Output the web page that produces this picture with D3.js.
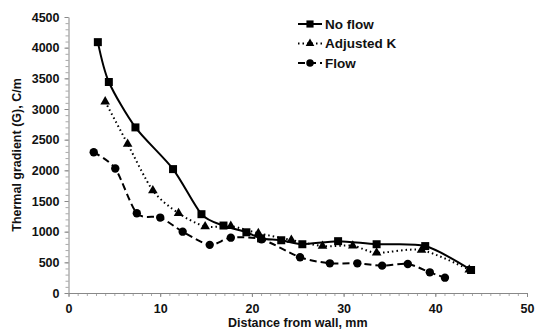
<!DOCTYPE html>
<html>
<head>
<meta charset="utf-8">
<script src="https://cdn.jsdelivr.net/npm/d3@7"></script>
<style>
  body { margin: 0; background: #fff; }
  text { font-family: "Liberation Sans", Arial, sans-serif; font-weight: bold; }
</style>
</head>
<body>
<div id="chart"></div>
<script>
// values
const noFlowX = [3.2, 4.4, 7.3, 11.4, 14.5, 16.9, 19.4, 21.0, 23.2, 25.5, 29.4, 33.6, 38.9, 43.9];
const noFlowY = [4090, 3440, 2700, 2020, 1285, 1100, 990, 890, 860, 795, 845, 795, 765, 375];

const adjKX = [4.0, 6.45, 9.2, 12.0, 14.9, 17.7, 20.7, 24.3, 27.7, 31.0, 33.6, 38.5, 43.7];
const adjKY = [3120, 2430, 1670, 1300, 1085, 1090, 975, 865, 765, 770, 655, 700, 380];

const flowX = [2.75, 5.1, 7.45, 10.0, 12.45, 15.4, 17.7, 21.05, 25.25, 28.5, 31.5, 34.2, 37.0, 39.4, 41.05];
const flowY = [2295, 2030, 1300, 1230, 1000, 785, 902, 875, 582, 484, 484, 446, 473, 337, 250];

const xTicks = [0, 10, 20, 30, 40, 50];
const yTicks = [0, 500, 1000, 1500, 2000, 2500, 3000, 3500, 4000, 4500];

const series = [
  { name: "No flow", xs: noFlowX, ys: noFlowY, sym: d3.symbolSquare, size: 64, dash: null },
  { name: "Adjusted K", xs: adjKX, ys: adjKY, sym: d3.symbolTriangle, size: 40, dash: "1.5,3" },
  { name: "Flow", xs: flowX, ys: flowY, sym: d3.symbolCircle, size: 55, dash: "7,4" }
];

const W = 540, H = 332;
const margin = { top: 17, right: 13, bottom: 39, left: 68.5 };

const svg = d3.select("#chart").append("svg")
    .attr("width", W)
    .attr("height", H);

const x = d3.scaleLinear().domain([0, 50]).range([margin.left, W - margin.right]);
const y = d3.scaleLinear().domain([0, 4500]).range([H - margin.bottom, margin.top]);

// minor ticks first
svg.append("g")
    .attr("transform", `translate(0,${y(0)})`)
    .call(d3.axisBottom(x).tickValues(d3.range(0, 51, 1)).tickSize(3).tickFormat(""))
    .call(g => g.select(".domain").remove())
    .call(g => g.selectAll("line").attr("stroke", "#aaa"));

svg.append("g")
    .attr("transform", `translate(${x(0)},0)`)
    .call(d3.axisLeft(y).tickValues(d3.range(0, 4501, 100)).tickSize(3).tickFormat(""))
    .call(g => g.select(".domain").remove())
    .call(g => g.selectAll("line").attr("stroke", "#aaa"));

// x axis
svg.append("g")
    .attr("transform", `translate(0,${y(0)})`)
    .call(d3.axisBottom(x).tickValues(xTicks).tickFormat(d3.format("d")).tickSize(4).tickPadding(7).tickSizeOuter(0))
    .call(g => g.select(".domain").attr("stroke", "#888"))
    .call(g => g.selectAll("line").attr("stroke", "#888"))
    .selectAll("text")
    .attr("font-size", 12.5)
    .attr("fill", "#111");

// y axis
svg.append("g")
    .attr("transform", `translate(${x(0)},0)`)
    .call(d3.axisLeft(y).tickValues(yTicks).tickFormat(d3.format("d")).tickSize(4).tickPadding(5).tickSizeOuter(0))
    .call(g => g.select(".domain").attr("stroke", "#888"))
    .call(g => g.selectAll("line").attr("stroke", "#888"))
    .selectAll("text")
    .attr("font-size", 12.5)
    .attr("fill", "#111");

// axis titles
svg.append("text")
    .attr("x", (x(0) + x(50)) / 2)
    .attr("y", 327)
    .attr("text-anchor", "middle")
    .attr("font-size", 12.5)
    .attr("fill", "#111")
    .text("Distance from wall, mm");

svg.append("text")
    .attr("transform", `translate(21,${(y(0) + y(4500)) / 2}) rotate(-90)`)
    .attr("text-anchor", "middle")
    .attr("font-size", 12.5)
    .attr("fill", "#111")
    .text("Thermal gradient (G), C/m");

// lines + markers
const line = d3.line()
    .x(d => x(d[0]))
    .y(d => y(d[1]))
    .curve(d3.curveCardinal.tension(0.2));

series.forEach(s => {
  const pts = s.xs.map((v, i) => [v, s.ys[i]]);
  svg.append("path")
      .datum(pts)
      .attr("fill", "none")
      .attr("stroke", "#000")
      .attr("stroke-width", 2)
      .attr("stroke-dasharray", s.dash)
      .attr("d", line);

  svg.append("g")
    .selectAll("path")
    .data(pts)
    .join("path")
      .attr("transform", d => `translate(${x(d[0])},${y(d[1])})`)
      .attr("d", d3.symbol(s.sym, s.size))
      .attr("fill", "#000");
});

// legend
const legend = svg.append("g").attr("transform", "translate(298,24)");
series.forEach((s, i) => {
  const g = legend.append("g").attr("transform", `translate(0,${i * 19.5})`);
  g.append("line")
      .attr("x1", 0).attr("x2", 24)
      .attr("stroke", "#000")
      .attr("stroke-width", 2)
      .attr("stroke-dasharray", s.dash);
  g.append("path")
      .attr("transform", "translate(12,0)")
      .attr("d", d3.symbol(s.sym, s.size * 0.8))
      .attr("fill", "#000");
  g.append("text")
      .attr("x", 27)
      .attr("dy", "0.35em")
      .attr("font-size", 13.5)
      .attr("fill", "#111")
      .text(s.name);
});
</script>
</body>
</html>
